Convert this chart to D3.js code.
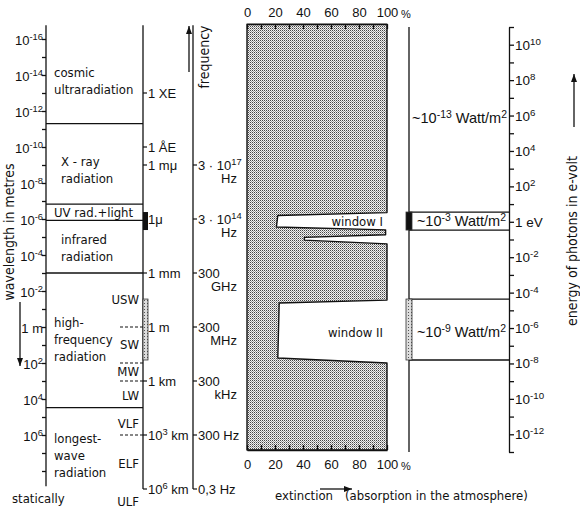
<!DOCTYPE html>
<html lang="en">
<head>
<meta charset="utf-8">
<title>electromagnetic spectrum and atmospheric windows</title>
<script src="https://d3js.org/d3.v7.min.js"></script>
<style>
  body { margin: 0; background: #fff; }
  text { fill: #111; }
  .lbl { font-family: "DejaVu Sans Condensed", "DejaVu Sans", sans-serif; font-size: 13px; }
  .num { font-family: "Liberation Sans", Arial, sans-serif; font-size: 13px; }
  .axis path, .axis line { stroke: #111; stroke-width: 1.3; }
</style>
</head>
<body>
<script>

var w = 580;
var h = 508;

// wavelength axis (metres), labelled decades
var wlLabelExp = [-16, -14, -12, -10, -8, -6, -4, -2, 0, 2, 4, 6];

// spectral regions: boundaries in metres, names, where the names sit
var bandEdges = [5e-12, 1.5e-7, 1.2e-6, 1e-3, 3e4];
var bandNames = [["cosmic", "ultraradiation"], ["X - ray", "radiation"], ["UV rad.+light"],
                 ["infrared", "radiation"], ["high-", "frequency", "radiation"], ["longest-", "wave", "radiation"]];
var bandLabelAt = [7.7e-15, 6.8e-10, 4.1e-7, 1.3e-5, 0.53, 1.5e6];

// radio sub-bands
var radioNames = ["USW", "SW", "MW", "LW", "VLF", "ELF", "ULF"];
var radioLabelAt = [0.03, 8.8, 280, 6.8e3, 2.4e5, 3.6e7, 5.2e9];
var radioEdges = [1, 100, 1e3, 1e6];

// length units along the region column
var unitNames = ["1 XE", "1 ÅE", "1 mμ", "1μ", "1 mm", "1 m", "1 km", "10^{3} km", "10^{6} km"];
var unitValues = [1e-13, 1e-10, 1e-9, 1e-6, 1e-3, 1, 1e3, 1e6, 1e9];

// frequency labels (Hz)
var freqValues = [3e17, 3e14, 3e11, 3e8, 3e5, 300, 0.3];
var freqMain = ["3 · 10^{17}", "3 · 10^{14}", "300", "300", "300", "300 Hz", "0,3 Hz"];
var freqUnit = ["Hz", "Hz", "GHz", "MHz", "kHz", "", ""];

// extinction profile: wavelength (m) and extinction (%)
var extWl  = [1.5e-17, 4.4e-7, 6.4e-7, 2.8e-6, 4.0e-6, 7.5e-6, 1.05e-5, 1.5e-5, 2.4e-5, 0.032, 0.046, 53, 100, 6.8e6];
var extPct = [100, 100, 22, 21, 99, 99, 41, 41, 100, 100, 23, 22, 100, 100];

// atmospheric windows
var windowNames = ["window I", "window II"];
var windowTop = [4.1e-7, 0.028];
var windowBottom = [4.1e-6, 68];
var windowPower = ["~10^{-3} Watt/m^{2}", "~10^{-9} Watt/m^{2}"];
var outsidePower = "~10^{-13} Watt/m^{2}";
var outsidePowerAt = 2.5e-12;

// photon energy axis (eV)
var evLabelExp = [10, 8, 6, 4, 2, 0, -2, -4, -6, -8, -10, -12];

var extTicks = d3.range(0, 101, 10);

// scales
var yWl = d3.scaleLog().domain([1e-17, 1e9]).range([21, 489]);
var xExt = d3.scaleLinear().domain([0, 100]).range([247, 387]);
var yEv = d3.scaleLog().domain([1e11, 1e-13]).range([27, 452]);

var svg = d3.select("body")
            .append("svg")
            .attr("width", w)
            .attr("height", h);

// dotted raster used for the absorption area
var defs = svg.append("defs");
var pat = defs.append("pattern").attr("id", "dots")
              .attr("width", 2).attr("height", 2)
              .attr("patternUnits", "userSpaceOnUse");
pat.append("rect").attr("width", 2).attr("height", 2).attr("fill", "#f2f2f2");
pat.append("rect").attr("width", 1).attr("height", 1).attr("fill", "#444");
pat.append("rect").attr("x", 1).attr("y", 1).attr("width", 1).attr("height", 1).attr("fill", "#9a9a9a");

var pat2 = defs.append("pattern").attr("id", "light")
               .attr("width", 3).attr("height", 3)
               .attr("patternUnits", "userSpaceOnUse");
pat2.append("rect").attr("width", 3).attr("height", 3).attr("fill", "#ddd");
pat2.append("rect").attr("width", 1).attr("height", 1).attr("fill", "#555");

// text with ^{...} superscripts
function rich(t, str) {
  var parts = str.split(/(\^\{[^}]*\})/);
  var back = 0;
  parts.forEach(function(p) {
    if (!p) return;
    if (p[0] === "^") {
      t.append("tspan").attr("dy", -5).style("font-size", "0.72em").text(p.slice(2, -1));
      back = 5;
    } else {
      t.append("tspan").attr("dy", back).text(p);
      back = 0;
    }
  });
  return t;
}

function arrow(x1, y1, x2, y2) {
  var a = Math.atan2(y2 - y1, x2 - x1);
  svg.append("line").attr("x1", x1).attr("y1", y1).attr("x2", x2).attr("y2", y2)
     .attr("stroke", "#111").attr("stroke-width", 1.3);
  var L = 8, W = 3;
  var p = [[x2, y2],
           [x2 - L * Math.cos(a) + W * Math.sin(a), y2 - L * Math.sin(a) - W * Math.cos(a)],
           [x2 - L * Math.cos(a) - W * Math.sin(a), y2 - L * Math.sin(a) + W * Math.cos(a)]];
  svg.append("path").attr("d", "M" + p.join("L") + "Z").attr("fill", "#111");
}

// ---------- wavelength axis ----------
var wlTickVals = d3.range(-16, 9).map(function(e) { return Math.pow(10, e); });
svg.append("g")
   .attr("class", "axis")
   .attr("transform", "translate(46,0)")
   .call(d3.axisLeft(yWl).tickValues(wlTickVals).tickSize(4).tickSizeOuter(0).tickFormat(""))
   .select(".domain").attr("d", "M0," + yWl(1.7e-17) + "V" + yWl(7e8));

svg.selectAll(".wlLabel")
   .data(wlLabelExp)
   .enter()
   .append("text")
   .attr("class", "num wlLabel")
   .attr("x", 43)
   .attr("y", function(d) { return yWl(Math.pow(10, d)) + 6; })
   .attr("text-anchor", "end")
   .each(function(d) {
     rich(d3.select(this), d === 0 ? "1 m" : "10^{" + d + "}");
   });

svg.append("text")
   .attr("class", "lbl")
   .attr("transform", "translate(14,232) rotate(-90)")
   .attr("text-anchor", "middle")
   .style("font-size", "14px")
   .text("wavelength in metres");

arrow(20, 302, 20, 366);

// ---------- region column ----------
svg.append("line")
   .attr("x1", 143).attr("x2", 143)
   .attr("y1", yWl(1.7e-17)).attr("y2", yWl(1e9))
   .attr("stroke", "#111").attr("stroke-width", 1.3);

svg.selectAll(".bandEdge")
   .data(bandEdges)
   .enter()
   .append("line")
   .attr("x1", 46).attr("x2", 143)
   .attr("y1", function(d) { return yWl(d); })
   .attr("y2", function(d) { return yWl(d); })
   .attr("stroke", "#111").attr("stroke-width", 1.3);

bandNames.forEach(function(lines, i) {
  var y0 = yWl(bandLabelAt[i]);
  lines.forEach(function(s, j) {
    svg.append("text")
       .attr("class", "lbl")
       .attr("x", i === 1 || i === 3 ? 61 : 54)
       .attr("y", y0 + 4.5 + j * 17)
       .text(s);
  });
});

svg.selectAll(".radioEdge")
   .data(radioEdges)
   .enter()
   .append("line")
   .attr("x1", 120).attr("x2", 143)
   .attr("y1", function(d) { return yWl(d); })
   .attr("y2", function(d) { return yWl(d); })
   .attr("stroke", "#111").attr("stroke-width", 1.1)
   .attr("stroke-dasharray", "3,2");

svg.selectAll(".radioName")
   .data(radioNames)
   .enter()
   .append("text")
   .attr("class", "lbl")
   .attr("x", 139)
   .attr("y", function(d, i) { return yWl(radioLabelAt[i]) + 4.5; })
   .attr("text-anchor", "end")
   .text(function(d) { return d; });

// unit ticks on the right of the column
svg.selectAll(".unitTick")
   .data(unitValues)
   .enter()
   .append("line")
   .attr("x1", 143).attr("x2", 147)
   .attr("y1", function(d) { return yWl(d); })
   .attr("y2", function(d) { return yWl(d); })
   .attr("stroke", "#111").attr("stroke-width", 1.2);

svg.selectAll(".unitName")
   .data(unitNames)
   .enter()
   .append("text")
   .attr("class", "num")
   .attr("x", 148)
   .attr("y", function(d, i) { return yWl(unitValues[i]) + 4.5; })
   .each(function(d) { rich(d3.select(this), d); });

// window marks on the column edge
svg.append("rect")
   .attr("x", 143).attr("width", 5)
   .attr("y", yWl(windowTop[0])).attr("height", yWl(windowBottom[0]) - yWl(windowTop[0]))
   .attr("fill", "#111");
svg.append("rect")
   .attr("x", 143).attr("width", 5)
   .attr("y", yWl(windowTop[1])).attr("height", yWl(windowBottom[1]) - yWl(windowTop[1]))
   .attr("fill", "url(#light)").attr("stroke", "#333").attr("stroke-width", 0.8);

// ---------- frequency axis ----------
svg.append("line")
   .attr("x1", 193).attr("x2", 193)
   .attr("y1", yWl(1.7e-17)).attr("y2", yWl(1e9))
   .attr("stroke", "#111").attr("stroke-width", 1.3);

arrow(189, 72, 189, 26);

svg.append("text")
   .attr("class", "lbl")
   .attr("transform", "translate(209,57) rotate(-90)")
   .attr("text-anchor", "middle")
   .style("font-size", "14px")
   .text("frequency");

svg.selectAll(".freqTick")
   .data(freqValues)
   .enter()
   .append("line")
   .attr("x1", 193).attr("x2", 197)
   .attr("y1", function(d) { return yWl(3e8 / d); })
   .attr("y2", function(d) { return yWl(3e8 / d); })
   .attr("stroke", "#111").attr("stroke-width", 1.2);

freqValues.forEach(function(f, i) {
  var y = yWl(3e8 / f);
  rich(svg.append("text").attr("class", "num").attr("x", 198).attr("y", y + 4.5), freqMain[i]);
  if (freqUnit[i]) {
    svg.append("text").attr("class", "num")
       .attr("x", 237).attr("y", y + 18)
       .attr("text-anchor", "end")
       .text(freqUnit[i]);
  }
});

// ---------- extinction panel ----------
var ext = extWl.map(function(d, i) { return {wl: d, pct: extPct[i]}; });

var area = d3.area()
             .y(function(d) { return yWl(d.wl); })
             .x0(xExt(0))
             .x1(function(d) { return xExt(d.pct); })
             .curve(d3.curveLinear);

svg.append("path")
   .datum(ext)
   .attr("d", area)
   .attr("fill", "url(#dots)")
   .attr("stroke", "#111")
   .attr("stroke-width", 1.4)
   .attr("stroke-linejoin", "round");

var topY = yWl(extWl[0]);
var botY = yWl(extWl[extWl.length - 1]);

svg.append("g")
   .attr("class", "axis num")
   .attr("transform", "translate(0," + topY + ")")
   .call(d3.axisTop(xExt).tickValues(extTicks).tickSize(-5).tickSizeOuter(0).tickPadding(7)
           .tickFormat(function(d) { return d % 20 === 0 ? d : ""; }))
   .call(function(g) { g.selectAll("text").attr("font-size", 13).attr("font-family", null).attr("fill", "#111"); });

svg.append("g")
   .attr("class", "axis num")
   .attr("transform", "translate(0," + botY + ")")
   .call(d3.axisBottom(xExt).tickValues(extTicks).tickSize(-5).tickSizeOuter(0).tickPadding(10)
           .tickFormat(function(d) { return d % 20 === 0 ? d : ""; }))
   .call(function(g) { g.selectAll("text").attr("font-size", 13).attr("font-family", null).attr("fill", "#111"); });

svg.append("text").attr("class", "num").attr("x", xExt(100) + 14).attr("y", topY - 6).style("font-size", "11px").text("%");
svg.append("text").attr("class", "num").attr("x", xExt(100) + 14).attr("y", botY + 20).style("font-size", "11px").text("%");

windowNames.forEach(function(s, i) {
  var ym = (yWl(windowTop[i]) + yWl(windowBottom[i])) / 2;
  svg.append("text")
     .attr("class", "lbl")
     .attr("x", 383)
     .attr("y", ym + 5 + (i === 1 ? 2 : 0))
     .attr("text-anchor", "end")
     .text(s);
});

// ---------- intensity column and photon energy axis ----------
svg.append("line")
   .attr("x1", 409).attr("x2", 409)
   .attr("y1", yEv(1e11)).attr("y2", yEv(1e-13))
   .attr("stroke", "#111").attr("stroke-width", 1.3);

var evTickVals = d3.range(11, -14, -1).map(function(e) { return Math.pow(10, e); });
svg.append("g")
   .attr("class", "axis")
   .attr("transform", "translate(509,0)")
   .call(d3.axisRight(yEv).tickValues(evTickVals).tickSize(5).tickSizeOuter(0).tickFormat(""));

svg.selectAll(".evLabel")
   .data(evLabelExp)
   .enter()
   .append("text")
   .attr("class", "num")
   .attr("x", 515)
   .attr("y", function(d) { return yEv(Math.pow(10, d)) + 5; })
   .style("font-size", "13.5px")
   .each(function(d) { rich(d3.select(this), d === 0 ? "1 eV" : "10^{" + d + "}"); });

windowTop.forEach(function(t, i) {
  [t, windowBottom[i]].forEach(function(v) {
    svg.append("line")
       .attr("x1", 409).attr("x2", 509)
       .attr("y1", yWl(v)).attr("y2", yWl(v))
       .attr("stroke", "#111").attr("stroke-width", 1.3);
  });
  svg.append("rect")
     .attr("x", 406).attr("width", 6)
     .attr("y", yWl(t)).attr("height", yWl(windowBottom[i]) - yWl(t))
     .attr("fill", i === 0 ? "#111" : "url(#light)")
     .attr("stroke", "#333").attr("stroke-width", 0.8);
  var ym = (yWl(t) + yWl(windowBottom[i])) / 2;
  rich(svg.append("text").attr("class", "num").attr("x", 506).attr("y", ym + 5 + (i === 1 ? 2 : 0))
          .style("font-size", "14.5px")
          .attr("text-anchor", "end"), windowPower[i]);
});

rich(svg.append("text").attr("class", "num").attr("x", 507).attr("y", yWl(outsidePowerAt) + 5)
        .style("font-size", "14.5px")
        .attr("text-anchor", "end"), outsidePower);

svg.append("text")
   .attr("class", "lbl")
   .attr("transform", "translate(577,241) rotate(-90)")
   .attr("text-anchor", "middle")
   .style("font-size", "14px")
   .text("energy of photons in e-volt");

arrow(574, 127, 574, 74);

// ---------- bottom captions ----------
svg.append("text").attr("class", "lbl").attr("x", 12).attr("y", 503).text("statically");
svg.append("text").attr("class", "lbl").attr("x", 275).attr("y", 500).text("extinction");
arrow(320, 489, 352, 489);
svg.append("text").attr("class", "lbl").attr("x", 345).attr("y", 500).text("(absorption in the atmosphere)");

</script>
</body>
</html>
